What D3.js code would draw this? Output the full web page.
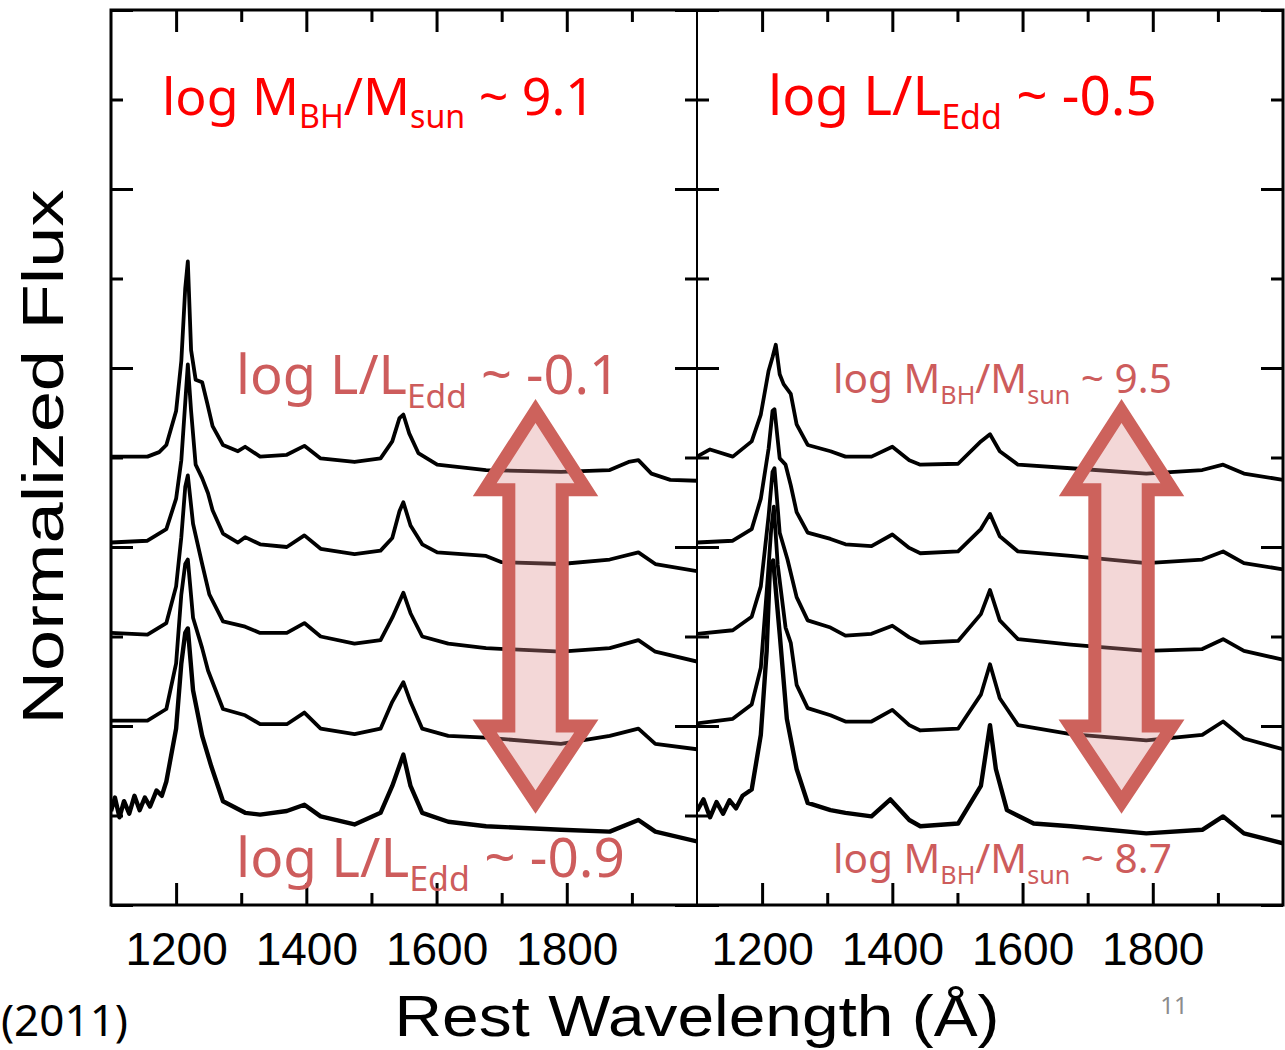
<!DOCTYPE html>
<html>
<head>
<meta charset="utf-8">
<script src="https://cdn.jsdelivr.net/npm/d3@7"></script>
<style>
  body { margin: 0; background: #fff; }
</style>
</head>
<body>
<div id="chart"></div>
<script>
// axis ticks
var majorWave = [1200, 1400, 1600, 1800];
var minorWave = [1300, 1500, 1700, 1900];
var majorFlux = [0, 2, 4, 6, 8, 10];
var minorFlux = [1, 3, 5, 7, 9];

// left panel: log MBH ~ 9.1, L/LEdd falling from top to bottom
// [rest wavelength (A), normalized flux + offset]
var leftSpec1 = [[1100,5.01],[1156,5.01],[1174,5.06],[1185,5.14],[1200,5.52],[1208,6.08],[1214,6.89],[1218,7.19],[1223,6.2],[1230,5.87],[1240,5.84],[1248,5.6],[1256,5.35],[1272,5.14],[1295,5.07],[1306,5.12],[1329,5.01],[1370,5.03],[1397,5.13],[1422,4.99],[1474,4.95],[1514,4.99],[1532,5.18],[1543,5.44],[1549,5.48],[1558,5.27],[1572,5.05],[1601,4.92],[1676,4.86],[1791,4.84],[1866,4.86],[1895,4.95],[1910,4.97],[1930,4.82],[1959,4.75],[2000,4.74]];
var leftSpec2 = [[1100,4.05],[1156,4.07],[1185,4.2],[1200,4.54],[1208,4.97],[1214,5.61],[1218,6.04],[1223,5.52],[1230,4.92],[1240,4.77],[1249,4.6],[1256,4.41],[1272,4.15],[1295,4.05],[1306,4.11],[1329,4.03],[1370,4.0],[1397,4.13],[1422,3.98],[1474,3.92],[1514,3.96],[1532,4.1],[1543,4.4],[1549,4.5],[1560,4.24],[1578,4.03],[1601,3.94],[1676,3.9],[1700,3.83],[1791,3.81],[1866,3.86],[1910,3.94],[1936,3.81],[2000,3.73]];
var leftSpec3 = [[1100,3.04],[1156,3.02],[1185,3.15],[1200,3.56],[1208,4.11],[1214,4.67],[1218,4.8],[1226,4.26],[1240,3.81],[1251,3.47],[1272,3.17],[1306,3.11],[1329,3.04],[1370,3.04],[1397,3.15],[1422,3.0],[1474,2.92],[1514,2.96],[1532,3.21],[1549,3.49],[1560,3.26],[1578,3.0],[1618,2.92],[1676,2.87],[1791,2.83],[1866,2.87],[1910,2.96],[1936,2.83],[2000,2.72]];
var leftSpec4 = [[1100,2.06],[1156,2.06],[1185,2.19],[1200,2.7],[1208,3.47],[1214,3.81],[1218,3.86],[1226,3.21],[1240,2.87],[1249,2.62],[1272,2.19],[1306,2.12],[1329,2.02],[1370,2.02],[1397,2.15],[1422,1.97],[1474,1.91],[1514,1.97],[1532,2.27],[1549,2.49],[1560,2.27],[1578,1.97],[1618,1.89],[1676,1.87],[1791,1.8],[1866,1.89],[1910,1.97],[1936,1.8],[2000,1.74]];
var leftSpec5 = [[1100,1.05],[1106,1.2],[1113,0.98],[1120,1.16],[1128,1.02],[1136,1.22],[1144,1.06],[1152,1.2],[1160,1.1],[1170,1.28],[1178,1.22],[1185,1.38],[1200,1.97],[1208,2.7],[1214,3.04],[1218,3.09],[1226,2.4],[1240,1.89],[1254,1.55],[1272,1.16],[1306,1.03],[1329,1.01],[1370,1.05],[1397,1.12],[1422,0.99],[1474,0.9],[1514,1.03],[1532,1.33],[1549,1.68],[1560,1.33],[1578,1.03],[1618,0.93],[1676,0.88],[1791,0.84],[1866,0.82],[1910,0.95],[1936,0.82],[2000,0.71]];

// right panel: log L/LEdd ~ -0.5, MBH falling from top to bottom
var rightSpec1 = [[1100,5.01],[1120,5.09],[1155,5.01],[1184,5.18],[1198,5.48],[1210,5.97],[1216,6.12],[1221,6.26],[1227,5.93],[1233,5.82],[1244,5.71],[1253,5.37],[1270,5.14],[1305,5.07],[1328,5.01],[1368,5.01],[1400,5.12],[1426,4.97],[1443,4.92],[1501,4.93],[1536,5.18],[1550,5.26],[1565,5.07],[1593,4.92],[1674,4.88],[1790,4.82],[1876,4.86],[1908,4.92],[1940,4.82],[2000,4.75]];
var rightSpec2 = [[1100,4.05],[1155,4.07],[1184,4.2],[1198,4.54],[1210,5.1],[1216,5.52],[1219,5.54],[1227,4.99],[1236,4.92],[1244,4.69],[1253,4.39],[1270,4.16],[1305,4.09],[1328,4.03],[1368,4.01],[1400,4.14],[1426,3.99],[1443,3.93],[1501,3.95],[1536,4.2],[1550,4.37],[1565,4.12],[1593,3.95],[1674,3.9],[1790,3.82],[1876,3.86],[1908,3.95],[1940,3.82],[2000,3.75]];
var rightSpec3 = [[1100,3.03],[1155,3.07],[1184,3.22],[1198,3.56],[1210,4.35],[1216,4.84],[1219,4.88],[1227,4.16],[1239,3.86],[1253,3.44],[1270,3.18],[1305,3.1],[1328,3.01],[1368,3.03],[1400,3.12],[1426,2.99],[1443,2.93],[1501,2.95],[1536,3.25],[1550,3.52],[1565,3.18],[1593,2.97],[1674,2.91],[1790,2.84],[1876,2.86],[1908,2.97],[1940,2.84],[2000,2.74]];
var rightSpec4 = [[1100,2.03],[1155,2.08],[1184,2.24],[1198,2.65],[1208,3.59],[1214,4.2],[1218,4.45],[1224,3.8],[1236,3.1],[1244,2.93],[1253,2.46],[1270,2.2],[1305,2.12],[1328,2.05],[1368,2.05],[1400,2.18],[1426,2.01],[1443,1.95],[1501,1.97],[1536,2.35],[1550,2.69],[1565,2.31],[1593,2.01],[1674,1.91],[1790,1.84],[1876,1.9],[1908,2.05],[1940,1.86],[2000,1.74]];
var rightSpec5 = [[1100,1.05],[1110,1.18],[1120,0.98],[1130,1.15],[1140,1.02],[1150,1.17],[1160,1.08],[1170,1.22],[1184,1.29],[1198,1.9],[1207,2.84],[1212,3.78],[1217,3.85],[1227,3.03],[1238,2.08],[1253,1.52],[1270,1.14],[1305,1.06],[1328,1.03],[1368,0.99],[1397,1.18],[1426,0.95],[1443,0.88],[1501,0.91],[1536,1.33],[1550,2.01],[1559,1.52],[1576,1.06],[1617,0.91],[1674,0.88],[1790,0.8],[1876,0.84],[1908,0.99],[1940,0.8],[2000,0.69]];

var leftSpectra = [leftSpec1, leftSpec2, leftSpec3, leftSpec4, leftSpec5];
var rightSpectra = [rightSpec1, rightSpec2, rightSpec3, rightSpec4, rightSpec5];

// label texts: [text, isSubscript]
var leftTitle = [["log M", 0], ["BH", 1], ["/M", 0], ["sun", 1], [" ~ 9.1", 0]];
var rightTitle = [["log L/L", 0], ["Edd", 1], [" ~ -0.5", 0]];
var leftTop = [["log L/L", 0], ["Edd", 1], [" ~ -0.1", 0]];
var leftBottom = [["log L/L", 0], ["Edd", 1], [" ~ -0.9", 0]];
var rightTop = [["log M", 0], ["BH", 1], ["/M", 0], ["sun", 1], [" ~ 9.5", 0]];
var rightBottom = [["log M", 0], ["BH", 1], ["/M", 0], ["sun", 1], [" ~ 8.7", 0]];

// arrow (wavelength centre, flux of tips and head bases)
var arrowWave = 1752;
var arrowFlux = [5.52, 4.64, 2.0, 1.15];

var W = 1285, H = 1050;
var plotTop = 10, plotBottom = 905;
var panels = [{x0: 111, x1: 697, spectra: leftSpectra}, {x0: 697, x1: 1283, spectra: rightSpectra}];

var svg = d3.select("#chart")
  .append("svg")
    .attr("width", W)
    .attr("height", H)
    .style("font-family", "'Liberation Sans', Arial, sans-serif");

var y = d3.scaleLinear().domain([0, 10]).range([plotBottom, plotTop]);

var redLabel = "#cd5c5c";

panels.forEach(function(p, i) {
  var x = d3.scaleLinear().domain([1100, 2000]).range([p.x0, p.x1]);
  var g = svg.append("g");

  svg.append("clipPath").attr("id", "clip" + i)
    .append("rect").attr("x", p.x0).attr("y", plotTop)
      .attr("width", p.x1 - p.x0).attr("height", plotBottom - plotTop);

  var line = d3.line().x(function(d) { return x(d[0]); }).y(function(d) { return y(d[1]); });

  g.append("g").attr("clip-path", "url(#clip" + i + ")")
    .selectAll("path").data(p.spectra).enter().append("path")
      .attr("d", line)
      .attr("fill", "none")
      .attr("stroke", "#000")
      .attr("stroke-width", function(d, k) { return k == 4 ? 4.4 : 3.8; })
      .attr("stroke-linejoin", "round");

  // ticks
  function tickAxis(axis, vals, len, tr) {
    var a = g.append("g").attr("transform", tr)
      .call(axis.tickValues(vals).tickSizeInner(-len).tickSizeOuter(0).tickFormat(""));
    a.select(".domain").remove();
    a.selectAll("line").attr("stroke", "#000").attr("stroke-width", 3);
    return a;
  }
  tickAxis(d3.axisTop(x), majorWave, 22, "translate(0," + plotTop + ")");
  tickAxis(d3.axisTop(x), minorWave, 12, "translate(0," + plotTop + ")");
  tickAxis(d3.axisBottom(x), minorWave, 12, "translate(0," + plotBottom + ")");
  tickAxis(d3.axisLeft(y), majorFlux, 22, "translate(" + p.x0 + ",0)");
  tickAxis(d3.axisLeft(y), minorFlux, 12, "translate(" + p.x0 + ",0)");
  tickAxis(d3.axisRight(y), majorFlux, 22, "translate(" + p.x1 + ",0)");
  tickAxis(d3.axisRight(y), minorFlux, 12, "translate(" + p.x1 + ",0)");

  var xb = g.append("g").attr("transform", "translate(0," + plotBottom + ")")
    .call(d3.axisBottom(x).tickValues(majorWave).tickFormat(d3.format("d"))
      .tickSizeInner(-22).tickSizeOuter(0).tickPadding(27));
  xb.select(".domain").remove();
  xb.selectAll("line").attr("stroke", "#000").attr("stroke-width", 3);
  xb.selectAll("text").attr("font-size", 46).attr("fill", "#000")
    .style("font-family", "'Liberation Sans', Arial, sans-serif");

  // arrow drawn in data space
  var cx = x(arrowWave);
  var hw = x(arrowWave + 78) - cx, sw = x(arrowWave + 41) - cx;
  var tipT = y(arrowFlux[0]), baseT = y(arrowFlux[1]), baseB = y(arrowFlux[2]), tipB = y(arrowFlux[3]);
  var pts = [[cx, tipT], [cx + hw, baseT], [cx + sw, baseT], [cx + sw, baseB], [cx + hw, baseB],
             [cx, tipB], [cx - hw, baseB], [cx - sw, baseB], [cx - sw, baseT], [cx - hw, baseT]];
  g.append("path")
    .attr("d", d3.line()(pts) + "Z")
    .attr("fill", "rgba(222,140,140,0.35)")
    .attr("stroke", "#cd625c")
    .attr("stroke-width", 13)
    .attr("stroke-linejoin", "miter");
});

// frame
svg.append("rect").attr("x", 111).attr("y", plotTop)
  .attr("width", 1283 - 111).attr("height", plotBottom - plotTop)
  .attr("fill", "none").attr("stroke", "#000").attr("stroke-width", 3);
svg.append("line").attr("x1", 697).attr("x2", 697).attr("y1", plotTop).attr("y2", plotBottom)
  .attr("stroke", "#000").attr("stroke-width", 2);

// rich labels with subscripts, fitted to width
function richLabel(parts, x0, base, width, size, color) {
  var t = svg.append("text").attr("x", x0).attr("y", base).attr("fill", color)
    .style("font-family", "'Noto Sans', 'Open Sans', sans-serif");
  parts.forEach(function(pt) { t.append("tspan").text(pt[0]); });
  function setSize(s) {
    t.attr("font-size", s);
    var shift = 0;
    t.selectAll("tspan").each(function(d, i) {
      var sp = d3.select(this);
      if (parts[i][1]) {
        sp.attr("font-size", s * 0.62).attr("dy", s * 0.26 - shift);
        shift = s * 0.26;
      } else {
        sp.attr("dy", -shift);
        shift = 0;
      }
    });
  }
  setSize(size);
  var w = t.node().getComputedTextLength();
  setSize(size * width / w);
}

richLabel(leftTitle, 162, 115, 433, 50, "#fe0000");
richLabel(rightTitle, 768, 115, 389, 50, "#fe0000");
richLabel(leftTop, 236, 394, 384, 48, redLabel);
richLabel(leftBottom, 236, 877, 389, 48, redLabel);
richLabel(rightTop, 833, 393, 339, 40, redLabel);
richLabel(rightBottom, 833, 873, 339, 40, redLabel);

// axis titles
svg.append("text")
  .attr("transform", "translate(63,457) rotate(-90)")
  .attr("text-anchor", "middle")
  .attr("font-size", 58)
  .attr("textLength", 535)
  .attr("lengthAdjust", "spacingAndGlyphs")
  .text("Normalized Flux");

svg.append("text")
  .attr("x", 697).attr("y", 1036)
  .attr("text-anchor", "middle")
  .attr("font-size", 58)
  .attr("textLength", 605)
  .attr("lengthAdjust", "spacingAndGlyphs")
  .text("Rest Wavelength (\u00c5)");

svg.append("text")
  .attr("x", 128).attr("y", 1036)
  .attr("text-anchor", "end")
  .attr("font-size", 44)
  .style("font-family", "'Noto Sans', sans-serif")
  .text("(2011)");

svg.append("text")
  .attr("x", 1174).attr("y", 1014)
  .attr("text-anchor", "middle")
  .attr("font-size", 24)
  .attr("fill", "#8c8c8c")
  .style("font-family", "'Noto Sans', sans-serif")
  .text("11");
</script>
</body>
</html>
